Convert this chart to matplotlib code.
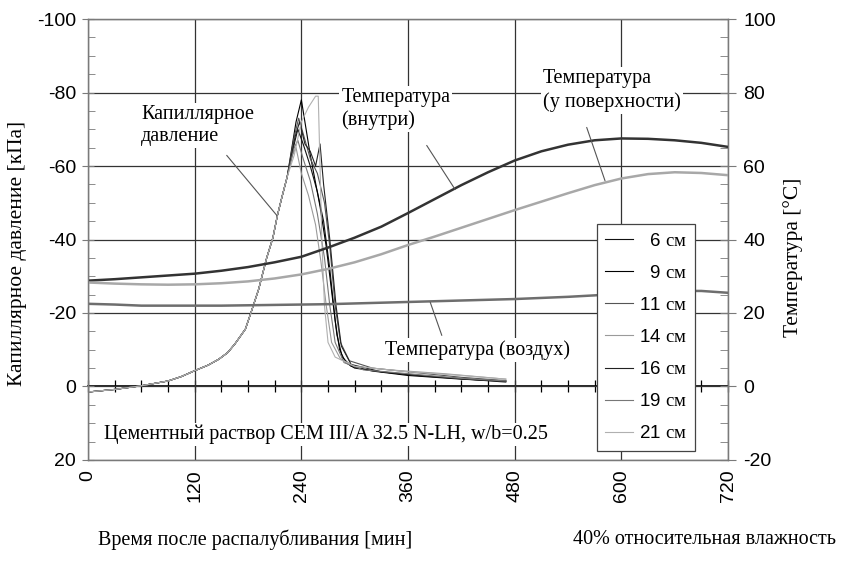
import matplotlib
matplotlib.use("Agg")
import matplotlib.pyplot as plt
from matplotlib.ticker import MultipleLocator

plt.rcParams["font.family"] = ["Liberation Sans", "DejaVu Sans"]
plt.rcParams["axes.unicode_minus"] = False
plt.rcParams["mathtext.fontset"] = "custom"
plt.rcParams["mathtext.rm"] = "Liberation Serif"
SERIF = ["Liberation Serif", "DejaVu Serif"]

# ---------------------------------------------------------------------------
# Данные
# ---------------------------------------------------------------------------

# общий участок роста капиллярного давления (все датчики совпадают), кПа
t_rise = [0, 30, 60, 90, 105, 120, 135, 147, 157, 165, 177, 184, 192, 201,
          208, 213, 218, 224]
p_rise = [1.5, 0.8, -0.2, -1.5, -2.7, -4.3, -5.8, -7.4, -9.2, -11.5, -15.6,
          -20.6, -26.5, -35.0, -40.5, -46.5, -51.4, -57.0]

# спад после пика, по датчикам
t_6 = [232, 236, 242, 250, 258, 265, 272, 278, 283, 290, 300, 330, 360, 400, 440, 470]
p_6 = [-66, -70, -66, -60, -53, -45, -32, -18, -10, -6.5, -5, -4, -3.2, -2.5, -1.8, -1.5]

t_9 = [234, 240, 250, 261, 268, 274, 280, 286, 296, 320, 360, 420, 470]
p_9 = [-72, -78, -63, -49, -38, -26, -14, -8, -5.5, -4.2, -3, -2, -1.4]

t_11 = [232, 237, 243, 250, 258, 266, 272, 278, 284, 294, 320, 360, 420, 470]
p_11 = [-68, -73, -68, -62, -58, -50, -38, -22, -12, -7, -5, -4, -2.5, -1.6]

t_14 = [230, 234, 240, 248, 256, 262, 268, 274, 284, 300, 340, 400, 470]
p_14 = [-63, -65, -58, -52, -44, -34, -22, -12, -7.5, -5.5, -4.5, -3.5, -2]

t_16 = [233, 238, 244, 250, 256, 261, 265, 272, 279, 285, 296, 330, 380, 470]
p_16 = [-68, -72, -66, -64, -60, -66, -55, -40, -22, -11, -6, -4, -2.8, -1.2]

t_19 = [232, 236, 242, 250, 258, 266, 272, 278, 288, 310, 360, 420, 470]
p_19 = [-65, -67, -62, -56, -47, -35, -22, -12, -6.5, -4.5, -3.5, -2.2, -1.5]

t_21 = [232, 240, 248, 256, 259, 261, 263, 266, 270, 278, 300, 360, 420, 470]
p_21 = [-63, -72, -76, -79, -79, -60, -40, -22, -12, -8, -5.5, -4, -3, -2]

sensor_labels = ["\u2007" + "6", "\u2007" + "9", "11", "14", "16", "19", "21"]
sensor_t = [t_6, t_9, t_11, t_14, t_16, t_19, t_21]
sensor_p = [p_6, p_9, p_11, p_14, p_16, p_19, p_21]

# температуры, °C
t_temp = [0, 30, 60, 90, 120, 150, 180, 210, 240, 270, 300, 330, 360, 390,
          420, 450, 480, 510, 540, 570, 600, 630, 660, 690, 720]
T_inside = [28.8, 29.2, 29.7, 30.2, 30.7, 31.5, 32.5, 33.8, 35.3, 37.8,
            40.5, 43.5, 47.2, 51.0, 54.8, 58.3, 61.5, 64.0, 65.8, 67.0,
            67.5, 67.4, 67.0, 66.3, 65.2]
T_surface = [28.3, 28.0, 27.8, 27.7, 27.8, 28.1, 28.6, 29.4, 30.5, 32.0,
             33.8, 36.0, 38.5, 40.8, 43.2, 45.6, 48.0, 50.3, 52.6, 54.8,
             56.6, 57.8, 58.3, 58.1, 57.5]
T_air = [22.5, 22.3, 22.0, 22.0, 22.0, 22.0, 22.1, 22.2, 22.3, 22.4,
         22.6, 22.8, 23.0, 23.2, 23.4, 23.6, 23.8, 24.1, 24.4, 24.8,
         25.3, 25.7, 26.0, 26.0, 25.5]

# ---------------------------------------------------------------------------
# Оформление
# ---------------------------------------------------------------------------

sensor_colors = ["#111111", "#000000", "#555555", "#9a9a9a", "#222222",
                 "#777777", "#b0b0b0"]
GRID = "#333333"
SPINE = "#7a7a7a"

fig = plt.figure(figsize=(8.53, 5.66), dpi=100)
ax = fig.add_axes([0.1032, 0.1873, 0.7503, 0.7791])

ax.set_xlim(0, 720)
ax.set_ylim(20, -100)
ax.set_xticks(range(0, 721, 120))
ax.set_yticks(range(-100, 21, 20))
ax.yaxis.set_minor_locator(MultipleLocator(5))
ax.grid(True, which="major", color=GRID, lw=0.9)
ax.set_axisbelow(True)
ax.tick_params(axis="x", length=0, pad=7, labelrotation=90, labelsize=14)
ax.tick_params(axis="y", which="major", direction="inout", length=9,
               labelsize=14, pad=4, color=SPINE)
ax.tick_params(axis="y", which="minor", direction="in", length=5, color=SPINE)
for s in ax.spines.values():
    s.set_color(SPINE)
    s.set_linewidth(1.0)

# ось времени проходит через ноль (как в Excel)
zero_axis = ax.secondary_xaxis(20 / 120)
zero_axis.set_xticks(range(0, 721, 30))
zero_axis.tick_params(direction="inout", length=9, labelbottom=False,
                      color="black", width=0.9)
zero_axis.spines["bottom"].set_color("black")
zero_axis.spines["bottom"].set_linewidth(1.2)

handles = []
for tt, pp, col in zip(sensor_t, sensor_p, sensor_colors):
    ln, = ax.plot(t_rise + tt, p_rise + pp, color=col, lw=0.8)
    handles.append(ln)

ax2 = ax.twinx()
ax2.set_ylim(-20, 100)
ax2.set_yticks(range(-20, 101, 20))
ax2.yaxis.set_minor_locator(MultipleLocator(5))
ax2.tick_params(axis="y", which="major", direction="inout", length=12,
                labelsize=14, pad=5, color=SPINE)
ax2.tick_params(axis="y", which="minor", direction="in", length=6, color=SPINE)
for s in ax2.spines.values():
    s.set_color(SPINE)

ax2.plot(t_temp, T_inside, color="#333333", lw=1.8)
ax2.plot(t_temp, T_surface, color="#a8a8a8", lw=1.8)
ax2.plot(t_temp, T_air, color="#6e6e6e", lw=1.8)

# подписи кривых
box = dict(facecolor="white", edgecolor="none", pad=1.5)
lead = dict(arrowstyle="-", color="#555555", lw=0.8, shrinkA=0, shrinkB=0)
txt = dict(family=SERIF, fontsize=14.5, va="center", ha="left", bbox=box,
           linespacing=1.25)

ax2.annotate("", xy=(212.6, 46.5), xytext=(156, 62.9), arrowprops=lead)
ax2.text(60, 71, "Капиллярное\nдавление", **txt)

ax2.annotate("", xy=(413, 53.6), xytext=(381, 65.6), arrowprops=lead)
ax2.text(285, 75.5, "Температура\n(внутри)", **txt)

ax2.annotate("", xy=(581.6, 56), xytext=(561, 70.5), arrowprops=lead)
ax2.text(512, 80.5, "Температура\n(у поверхности)", **txt)

ax2.annotate("", xy=(385, 22.9), xytext=(398, 13.9), arrowprops=lead)
ax2.text(334, 10, "Температура (воздух)", **txt)

ax2.text(18, -13, "Цементный раствор CEM III/A 32.5 N-LH, w/b=0.25", **txt)

leg_labels = [lab + r" $\mathrm{см}$" for lab in sensor_labels]
leg = ax2.legend(handles, leg_labels, loc="upper left",
                 bbox_to_anchor=(0.795, 0.535), borderaxespad=0,
                 fancybox=False, edgecolor="#444444", framealpha=1,
                 handlelength=1.5, handletextpad=0.3, labelspacing=0.8,
                 borderpad=0.45, fontsize=13.5)
leg.get_frame().set_linewidth(0.9)

fig.text(0.021, 0.553, "Капиллярное давление [кПа]", rotation=90,
         family=SERIF, fontsize=15.5, ha="center", va="center")
fig.text(0.93, 0.546, "Температура [°C]", rotation=90,
         family=SERIF, fontsize=15.5, ha="center", va="center")
fig.text(0.299, 0.046, "Время после распалубливания [мин]",
         family=SERIF, fontsize=14.5, ha="center", va="center")
fig.text(0.98, 0.046, "40% относительная влажность",
         family=SERIF, fontsize=14.5, ha="right", va="center")

fig.savefig("out.png", dpi=100)
